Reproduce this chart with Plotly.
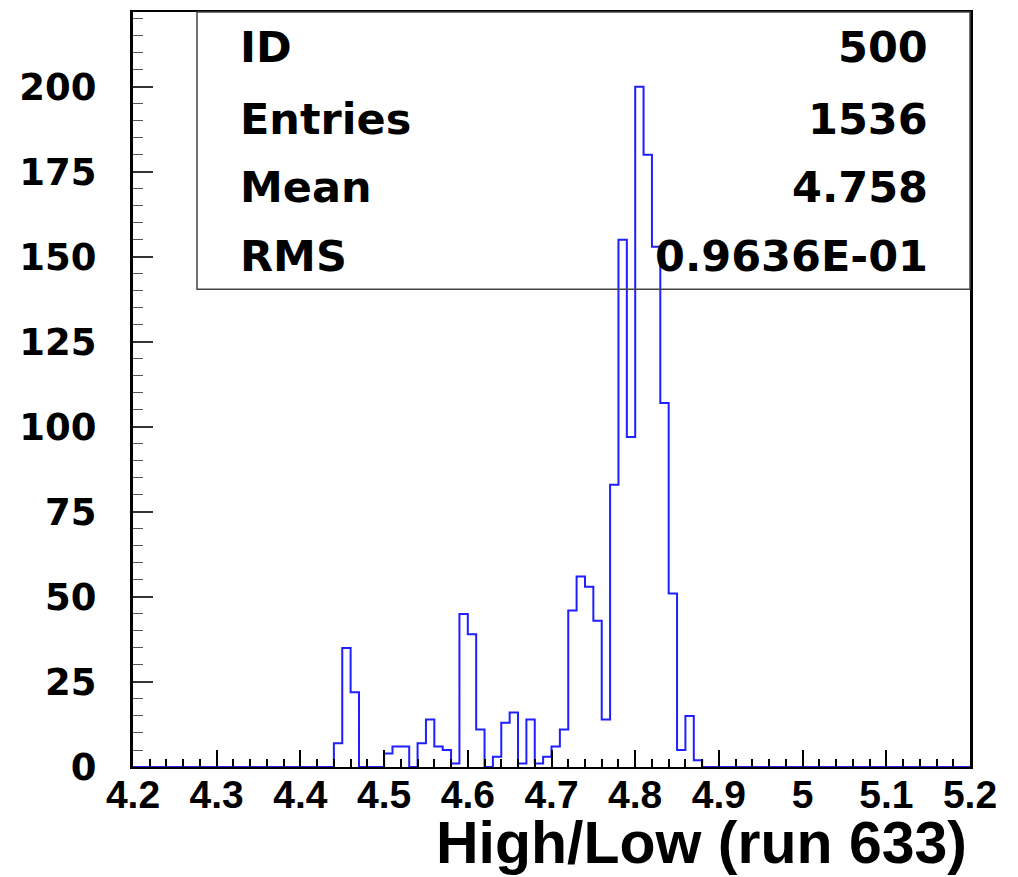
import plotly.graph_objects as go

# Histogram 500: High/Low ratio, run 633 — 100 bins of 0.01 between 4.2 and 5.2
bin_low = 4.2
bin_width = 0.01
counts = [0] * 24 + [
    7, 35, 22, 0, 0, 0,          # 4.44 - 4.50
    4, 6, 6, 0, 7, 14, 6, 5, 1, 45,   # 4.50 - 4.60
    39, 11, 0, 3, 13, 16, 1, 14, 1, 3,  # 4.60 - 4.70
    6, 11, 46, 56, 53, 43, 14, 83, 155, 97,  # 4.70 - 4.80
    200, 180, 153, 107, 51, 5, 15, 2,  # 4.80 - 4.88
] + [0] * 32

stat_labels = ["ID", "Entries", "Mean", "RMS"]
stat_values = ["500", "1536", "4.758", "0.9636E-01"]

x_tick_vals = [4.2, 4.3, 4.4, 4.5, 4.6, 4.7, 4.8, 4.9, 5.0, 5.1, 5.2]
x_tick_text = ["4.2", "4.3", "4.4", "4.5", "4.6", "4.7", "4.8", "4.9", "5", "5.1", "5.2"]
y_tick_vals = [0, 25, 50, 75, 100, 125, 150, 175, 200]
y_tick_text = [str(v) for v in y_tick_vals]

# step outline: left edge of each bin plus the final right edge
edges = [bin_low + i * bin_width for i in range(len(counts) + 1)]
step_y = counts + [counts[-1]]

fig = go.Figure()
fig.add_trace(go.Scatter(
    x=edges, y=step_y, mode="lines", line_shape="hv",
    line=dict(color="#1f1fff", width=2), hoverinfo="skip", showlegend=False,
))

W, H = 1018, 877
ml, mr, mt, mb = 133, 48, 10, 110
pw, ph = W - ml - mr, H - mt - mb

def px_x(p):
    return (p - ml) / pw

def px_y(p):
    return (H - mb - p) / ph

# statistics box
fig.add_shape(type="rect", xref="paper", yref="paper",
              x0=px_x(197), x1=1, y0=px_y(288), y1=1,
              line=dict(color="#444444", width=1.5))
row_y = [45, 117, 185, 255]
stat_font = dict(family="DejaVu Sans", size=43, color="black", weight="bold")
for lab, val, ry in zip(stat_labels, stat_values, row_y):
    fig.add_annotation(xref="paper", yref="paper", x=px_x(238), y=px_y(ry),
                       text=lab, showarrow=False, xanchor="left", yanchor="middle",
                       font=stat_font)
    fig.add_annotation(xref="paper", yref="paper", x=px_x(930), y=px_y(ry),
                       text=val, showarrow=False, xanchor="right", yanchor="middle",
                       font=stat_font)

# x axis title, right aligned under the frame
fig.add_annotation(xref="paper", yref="paper", x=px_x(969), y=px_y(843),
                   text="High/Low (run 633)", showarrow=False,
                   xanchor="right", yanchor="middle",
                   font=dict(family="Liberation Sans", size=59, color="black", weight="bold"))

fig.update_layout(
    width=W, height=H,
    margin=dict(l=ml, r=mr, t=mt, b=mb),
    paper_bgcolor="white", plot_bgcolor="white",
    xaxis=dict(
        range=[4.2, 5.2], tickmode="array", tickvals=x_tick_vals, ticktext=x_tick_text,
        ticks="inside", ticklen=17, tickwidth=2, tickcolor="black",
        minor=dict(dtick=0.02, tick0=4.2, ticks="inside", ticklen=8, tickwidth=2, tickcolor="black"),
        showgrid=False, zeroline=False, showline=True, linecolor="black", linewidth=2, mirror=True,
        tickfont=dict(family="Liberation Sans", size=39, color="black", weight="bold"),
        ticklabelstandoff=-8,
    ),
    yaxis=dict(
        range=[0, 222], tickmode="array", tickvals=y_tick_vals, ticktext=y_tick_text,
        ticks="inside", ticklen=20, tickwidth=1.5, tickcolor="#333333",
        minor=dict(dtick=5, tick0=0, ticks="inside", ticklen=10, tickwidth=1, tickcolor="#555555"),
        showgrid=False, zeroline=False, showline=True, linecolor="black", linewidth=3, mirror=True,
        tickfont=dict(family="DejaVu Sans", size=37, color="black", weight="bold"),
        ticklabelstandoff=26,
    ),
)

fig.write_html("out.html")
